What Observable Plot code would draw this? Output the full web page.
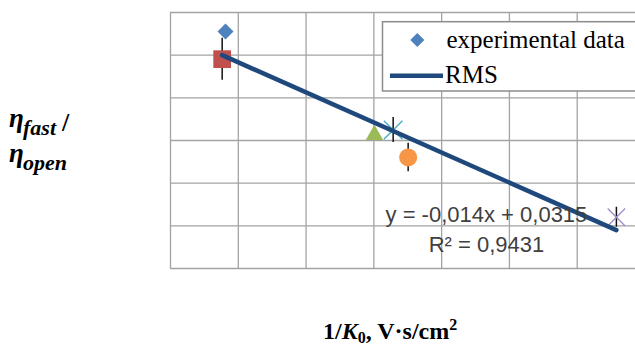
<!DOCTYPE html>
<html><head><meta charset="utf-8">
<script src="https://cdn.jsdelivr.net/npm/d3@7"></script>
<script src="https://cdn.jsdelivr.net/npm/@observablehq/plot@0.6"></script>
<style>
html,body{margin:0;padding:0;background:#fff;}
#wrap{position:relative;width:635px;height:347px;overflow:hidden;background:#fff;}
#wrap > svg{position:absolute;left:0;top:0;}
</style></head><body><div id="wrap"></div>
<script>
// ---- data ----
const xTicks = [1, 1.25, 1.5, 1.75, 2, 2.25, 2.5, 2.75];
const yTicks = [-0.01, -0.005, 0, 0.005, 0.01, 0.015, 0.02];
const seriesNames = ["diamond", "square", "triangle", "asterisk", "circle", "cross"];
const xValues = [1.2028, 1.1906, 1.7522, 1.8212, 1.8765, 2.6445];
const yValues = [0.01777, 0.01453, 0.00565, 0.00623, 0.00301, -0.00399];
const yErrors = [0, 0.00246, 0, 0.00146, 0.00166, 0.00117];
const trendX = [1.1906, 2.6445];
const trendY = [0.0150, -0.0055];
const equationText = "y = -0,014x + 0,0315";
const r2Text = "R² = 0,9431";
const legendLabels = ["experimental data", "RMS"];

// ---- styles ----
const styles = {
  diamond:  {symbol: "diamond2", fill: "#4f81bd", stroke: "none", r: 7.2},
  square:   {symbol: "square",   fill: "#c0504d", stroke: "none", r: 10},
  triangle: {symbol: "triangle", fill: "#9bbb59", stroke: "none", r: 6.5},
  asterisk: {symbol: "times",    fill: "none", stroke: "#4bacc6", strokeWidth: 1.4, r: 8.5},
  circle:   {symbol: "circle",   fill: "#f79646", stroke: "none", r: 9},
  cross:    {symbol: "times",    fill: "none", stroke: "#9f8cc6", strokeWidth: 1.3, r: 8}
};

const points = seriesNames.map((n, i) => ({name: n, x: xValues[i], y: yValues[i], e: yErrors[i]}));
const errPts = points.filter(d => d.e > 0);
const trend = trendX.map((x, i) => ({x, y: trendY[i]}));

const dots = seriesNames.map(n => Plot.dot(points.filter(d => d.name === n), {x: "x", y: "y", ...styles[n]}));

const chart = Plot.plot({
  width: 635, height: 347,
  marginLeft: 170, marginRight: -9.5, marginTop: 12, marginBottom: 79,
  x: {domain: [1, 2.75], axis: null},
  y: {domain: [-0.01, 0.02], axis: null},
  marks: [
    Plot.ruleX(xTicks, {stroke: "#a3a3a3", strokeWidth: 1.3}),
    Plot.ruleY(yTicks, {stroke: "#a3a3a3", strokeWidth: 1.3}),
    Plot.ruleX(errPts, {x: "x", y1: d => d.y - d.e, y2: d => d.y + d.e, stroke: "#111", strokeWidth: 1.5}),
    ...dots,
    Plot.line(trend, {x: "x", y: "y", stroke: "#1f497d", strokeWidth: 4.5}),
    Plot.text([equationText], {x: 1.0 + (486 - 170) / 67.8 * 0.25, y: 0.02 - (221.7 - 12) / 42.667 * 0.005, text: d => d, fontFamily: "Liberation Sans, Arial, sans-serif", fontSize: 22, fill: "#404040", textAnchor: "middle", lineAnchor: "bottom"}),
    Plot.text([r2Text], {x: 1.0 + (486 - 170) / 67.8 * 0.25, y: 0.02 - (251.7 - 12) / 42.667 * 0.005, text: d => d, fontFamily: "Liberation Sans, Arial, sans-serif", fontSize: 22, fill: "#404040", textAnchor: "middle", lineAnchor: "bottom"})
  ]
});
document.getElementById("wrap").appendChild(chart);

// ---- overlay: legend and axis titles ----
const ov = d3.select("#wrap").append("svg").attr("width", 635).attr("height", 347)
  .style("font-family", "'Liberation Serif','Times New Roman',serif");

// legend
ov.append("rect").attr("x", 382.5).attr("y", 21.7).attr("width", 300).attr("height", 69.3)
  .attr("fill", "#fff").attr("stroke", "#8c8c8c").attr("stroke-width", 1.5);
ov.append("path").attr("d", "M417.3,33 L424.3,40 L417.3,47 L410.3,40 Z").attr("fill", "#4f81bd");
ov.append("text").attr("x", 446.5).attr("y", 48.3).attr("font-size", 25).attr("fill", "#000").text(legendLabels[0]);
ov.append("line").attr("x1", 390).attr("x2", 443).attr("y1", 75.7).attr("y2", 75.7)
  .attr("stroke", "#1f497d").attr("stroke-width", 4.5);
ov.append("text").attr("x", 445).attr("y", 83.3).attr("font-size", 25).attr("fill", "#000").text(legendLabels[1]);

// y title
const yl = ov.append("g").attr("font-weight", "bold").attr("font-style", "italic").attr("fill", "#000");
yl.append("text").attr("x", 9).attr("y", 127).attr("font-size", 27).text("η");
yl.append("text").attr("x", 23).attr("y", 135).attr("font-size", 22).text("fast");
yl.append("text").attr("x", 62).attr("y", 131).attr("font-size", 26).attr("font-style", "normal").text("/");
yl.append("text").attr("x", 9).attr("y", 162).attr("font-size", 27).text("η");
yl.append("text").attr("x", 23).attr("y", 170).attr("font-size", 22).text("open");

// x title
const xt = ov.append("text").attr("x", 323).attr("y", 339).attr("font-size", 24).attr("font-weight", "bold").attr("fill", "#000");
xt.append("tspan").text("1/");
xt.append("tspan").attr("font-style", "italic").text("K");
xt.append("tspan").attr("font-size", 16).attr("dy", 4).text("0");
xt.append("tspan").attr("dy", -4).text(", V·s/cm");
xt.append("tspan").attr("font-size", 16).attr("dy", -9).text("2");
</script></body></html>
